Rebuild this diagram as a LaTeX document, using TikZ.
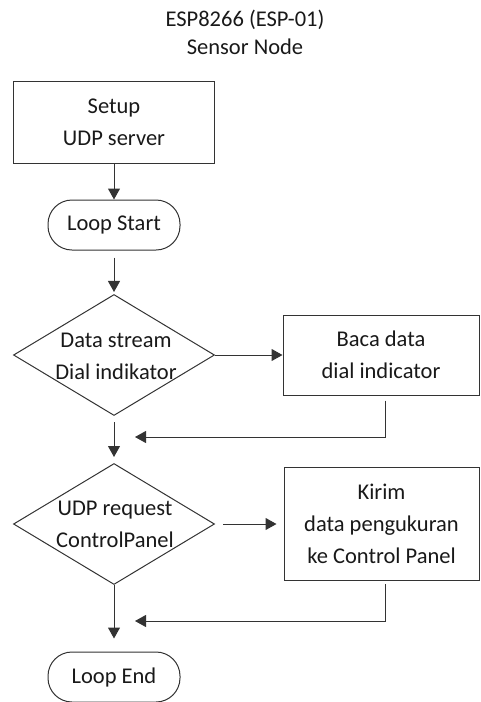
\documentclass[tikz,border=0pt]{standalone}
\usepackage{fontspec}
\setmainfont{Carlito}
\usetikzlibrary{shapes.geometric, arrows.meta}
\tikzstyle{process}=[draw, rectangle, inner sep=0pt, align=center]
\tikzstyle{terminal}=[draw, rectangle, rounded corners=24pt, minimum width=132pt, minimum height=50pt, inner sep=0pt]
\tikzstyle{decision}=[draw, diamond, minimum width=201pt, minimum height=121pt, inner sep=0pt]
\tikzstyle{txt}=[align=center, inner sep=0pt]
\tikzstyle{flow}=[-{Triangle[width=12pt,length=11pt]}]

\begin{document}
\begin{tikzpicture}[x=1pt, y=-1pt, line width=1pt, color=black!80, text=black!90,
    font=\fontsize{22.5}{32}\selectfont]
    \useasboundingbox (0,0) rectangle (480,702);
% Title
    \node[txt, font=\fontsize{22.5}{28}\selectfont] (title) at (245,32) {ESP8266 (ESP-01)\\Sensor Node};
% Main column
    \node[process, minimum width=201pt, minimum height=82pt] (setup) at (114,122) {Setup\\UDP server};
    \node[terminal] (start) at (114,225) {Loop Start};
    \node[decision] (dial) at (114,355) {};
    \node[txt] (dialtxt) at (116,356) {Data stream\\Dial indikator};
    \node[decision] (udp) at (114,524) {};
    \node[txt] (udptxt) at (115,524) {UDP request\\ControlPanel};
    \node[terminal] (end) at (114,677) {Loop End};
% Side boxes
    \node[process, minimum width=196pt, minimum height=80pt] (baca) at (381,355) {Baca data\\dial indicator};
    \node[process, minimum width=195pt, minimum height=113pt] (kirim) at (381.5,524) {Kirim\\data pengukuran\\ke Control Panel};
% Joins
    \coordinate (join1) at (135,437);
    \coordinate (join2) at (135,621);
% Arrows
    \draw[flow] (setup) -- (start);
    \draw[flow, shorten <=7pt, shorten >=2pt] (start) -- (dial);
    \draw[flow] (dial) -- (baca);
    \draw[flow] ([xshift=4pt, yshift=-5pt]baca.south) |- (join1);
    \draw[flow, shorten <=6pt, shorten >=6pt] (dial) -- (udp);
    \draw[flow, shorten <=8pt, shorten >=7pt] (udp) -- (kirim);
    \draw[flow] ([xshift=3.5pt, yshift=-3pt]kirim.south) |- (join2);
    \draw[flow, shorten >=13pt] (udp) -- (end);
\end{tikzpicture}
\end{document}
